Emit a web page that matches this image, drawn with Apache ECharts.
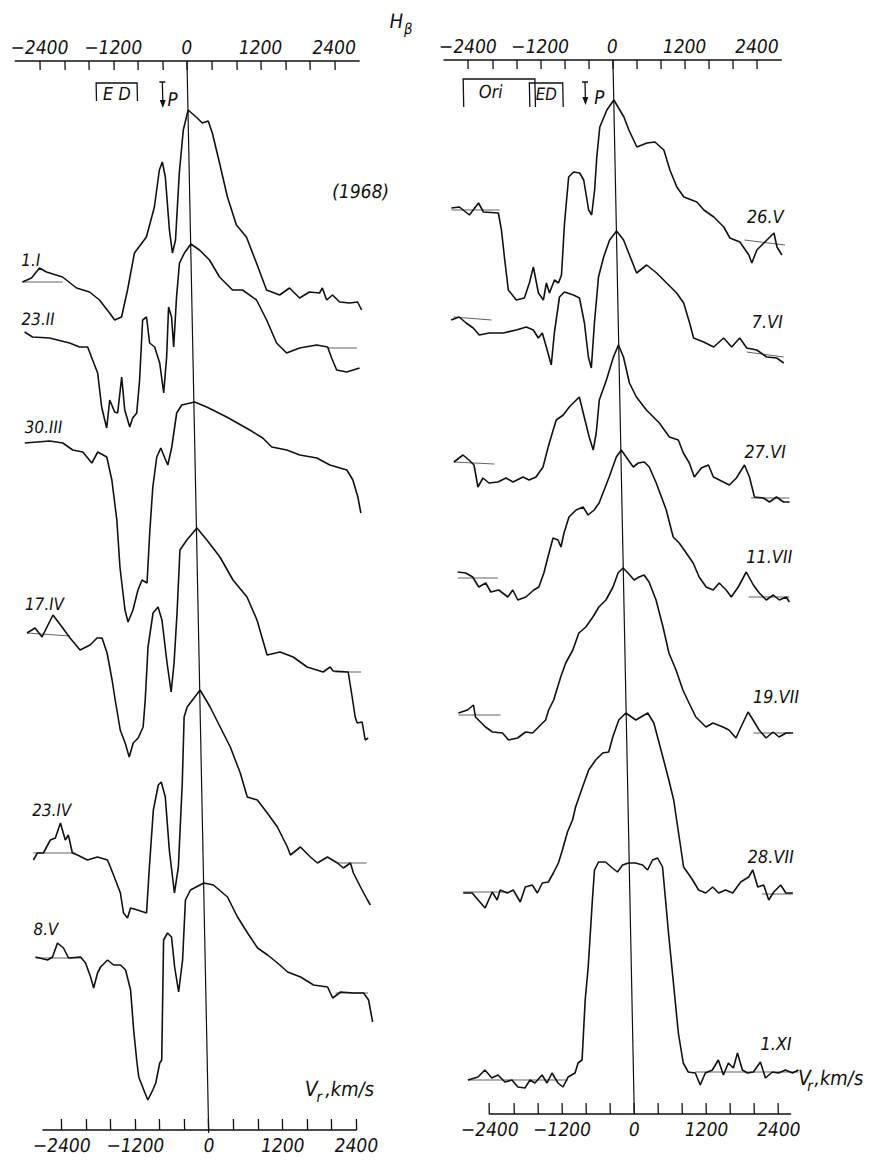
<!DOCTYPE html>
<html><head><meta charset="utf-8">
<script src="https://cdn.jsdelivr.net/npm/echarts@6/dist/echarts.min.js"></script>
<style>
html,body{margin:0;padding:0;background:#fff;}
#chart{width:872px;height:1162px;transform:skewX(1.16deg);transform-origin:50% 50%;}
</style></head><body><div id="chart"></div>
<script>
// ---- axis ticks (km/s) ----
const TICKS = [-2400,-2000,-1600,-1200,-800,-400,0,400,800,1200,1600,2000,2400];
const TICK_LABELS = [-2400,-1200,0,1200,2400];

// ---- profile dates ----
const LEFT_DATES  = ['1.I','23.II','30.III','17.IV','23.IV','8.V'];
const RIGHT_DATES = ['26.V','7.VI','27.VI','11.VII','19.VII','28.VII','1.XI'];
// continuum level of each profile in the stack (arbitrary units)
const LEFT_OFFSETS  = [8.51,7.85,6.90,5.00,2.78,1.75];
const RIGHT_OFFSETS = [9.03,7.93,6.51,5.35,3.98,2.21,0.35];

// ---- profiles: radial velocity (km/s) and flux above continuum (arb. units) ----
const V_1I = [-2755,-2608,-2474,-2361,-2101,-1877,-1666,-1507,-1347,-1267,-1153,-1047,-922,-722,-582,-489,-438,-394,-345,-303,-249,-165,-86,0,145,225,323,386,490,611,748,907,1062,1217,1429,1592,1753,1916,2079,2127,2193,2290,2404,2566,2696,2760];
const F_1I = [0,0.04,0.14,0.10,0.05,-0.06,-0.10,-0.18,-0.31,-0.38,-0.35,-0.08,0.29,0.45,0.75,1.12,1.20,1.05,0.52,0.29,0.42,1.09,1.52,1.72,1.64,1.59,1.61,1.49,1.20,0.85,0.57,0.45,0.19,-0.08,-0.13,-0.06,-0.16,-0.10,-0.11,-0.06,-0.18,-0.13,-0.20,-0.21,-0.20,-0.28];

const V_23II = [-2738,-2610,-2333,-2009,-1846,-1715,-1639,-1561,-1507,-1461,-1432,-1373,-1297,-1248,-1171,-1132,-1056,-1005,-938,-880,-811,-746,-705,-624,-547,-492,-432,-384,-339,-314,-251,-192,-108,0,138,298,456,663,826,1051,1209,1363,1523,1737,2015,2194,2255,2333,2496,2707];
const F_23II = [0.16,0.11,0.10,0.05,0.01,0.01,-0.12,-0.25,-0.59,-0.72,-0.80,-0.52,-0.64,-0.65,-0.29,-0.62,-0.79,-0.70,-0.65,-0.32,0.28,0.31,0.05,0.01,-0.15,-0.45,-0.09,0.41,0.31,0.01,0.51,0.85,0.95,1.04,0.98,0.88,0.71,0.58,0.58,0.48,0.28,0.05,-0.05,0,0.03,0.01,-0.10,-0.22,-0.24,-0.20];

const V_30III = [-2771,-2364,-2152,-1992,-1829,-1686,-1585,-1440,-1365,-1297,-1262,-1194,-1148,-1064,-976,-907,-826,-762,-700,-626,-557,-495,-448,-378,-287,-202,10,204,526,898,1106,1251,1494,1704,1981,2191,2466,2561,2636,2680];
const F_30III = [0,0.02,0,-0.07,-0.09,-0.20,-0.09,-0.14,-0.37,-0.77,-1.24,-1.67,-1.79,-1.67,-1.47,-1.37,-1.40,-0.87,-0.44,-0.14,-0.05,-0.15,-0.22,-0.04,0.30,0.38,0.41,0.36,0.26,0.13,0.05,-0.04,-0.07,-0.12,-0.15,-0.22,-0.27,-0.37,-0.54,-0.70];

const V_17IV = [-2797,-2665,-2554,-2470,-2369,-2225,-2098,-1939,-1774,-1658,-1577,-1500,-1427,-1383,-1311,-1235,-1173,-1104,-1021,-937,-894,-831,-738,-655,-595,-526,-469,-412,-347,-279,-163,5,163,370,575,798,953,1106,1318,1530,1754,2013,2129,2176,2421,2478,2520,2551,2632,2676,2725];
const F_17IV = [0,0.05,-0.04,0.06,0.18,0.06,-0.05,-0.17,-0.12,-0.05,-0.05,-0.20,-0.47,-0.67,-0.97,-1.10,-1.24,-1.10,-1.05,-0.94,-0.67,-0.14,0.20,0.26,0.13,-0.30,-0.59,-0.30,0.20,0.83,0.93,1.05,0.93,0.76,0.53,0.36,0.13,-0.22,-0.19,-0.24,-0.34,-0.39,-0.34,-0.38,-0.39,-0.64,-0.84,-0.90,-0.89,-1.07,-1.05];

const V_23IV = [-2768,-2701,-2603,-2486,-2403,-2316,-2242,-2191,-2131,-2049,-1888,-1725,-1562,-1517,-1438,-1362,-1318,-1254,-1202,-1090,-943,-881,-798,-709,-660,-599,-551,-482,-409,-318,-266,-213,3,161,318,476,630,736,899,1057,1217,1373,1420,1585,1745,1857,2022,2183,2279,2395,2440,2551,2660,2707];
const F_23IV = [-0.05,0.02,0.02,0.15,0.17,0.32,0.15,0.20,0.02,0,-0.05,-0.02,-0.05,-0.12,-0.25,-0.38,-0.58,-0.63,-0.53,-0.55,-0.58,-0.12,0.45,0.70,0.73,0.58,0.05,-0.38,-0.12,0.72,1.38,1.48,1.65,1.48,1.28,1.08,0.82,0.58,0.55,0.42,0.28,0.08,0,0.08,-0.02,-0.08,-0.02,-0.08,-0.13,-0.08,-0.18,-0.32,-0.45,-0.50];

const V_8V = [-2766,-2571,-2489,-2403,-2307,-2228,-2033,-1953,-1875,-1829,-1761,-1709,-1593,-1497,-1383,-1303,-1228,-1191,-1152,-1124,-1046,-984,-899,-849,-777,-744,-674,-608,-544,-503,-446,-371,-305,-220,0,156,381,538,696,854,1015,1174,1336,1546,1754,1982,2061,2193,2404,2567,2645,2704];
const F_8V = [0.01,-0.02,0.01,0.15,0.10,0,0.01,-0.05,-0.19,-0.30,-0.15,-0.09,-0.02,-0.07,-0.07,-0.12,-0.32,-0.72,-1.02,-1.19,-1.32,-1.42,-1.32,-1.25,-1.05,-1.02,0.18,0.25,0.21,-0.09,-0.34,-0.02,0.58,0.68,0.75,0.73,0.61,0.41,0.25,0.10,0.03,-0.05,-0.14,-0.19,-0.27,-0.29,-0.40,-0.34,-0.35,-0.35,-0.42,-0.64];

const V_26V = [-2729,-2594,-2431,-2276,-2196,-1949,-1904,-1864,-1810,-1681,-1546,-1458,-1386,-1311,-1231,-1175,-1128,-1040,-975,-922,-854,-770,-686,-586,-521,-449,-401,-343,-296,-236,-113,7,168,246,373,541,674,820,914,1023,1137,1351,1464,1627,1790,1887,2052,2196,2243,2331,2501,2621,2666,2746];
const F_26V = [0.02,0.03,-0.05,0.07,-0.02,-0.03,-0.20,-0.47,-0.80,-0.90,-0.88,-0.73,-0.57,-0.83,-0.90,-0.73,-0.83,-0.70,-0.73,-0.65,-0.13,0.33,0.38,0.37,0.30,0,-0.05,0.20,0.53,0.83,1.00,1.10,0.93,0.80,0.63,0.67,0.68,0.60,0.40,0.23,0.13,0.08,0,-0.07,-0.17,-0.28,-0.32,-0.45,-0.53,-0.40,-0.30,-0.23,-0.37,-0.45];

const V_7VI = [-2769,-2636,-2521,-2406,-2308,-2142,-1909,-1691,-1524,-1408,-1328,-1260,-1198,-1122,-1060,-963,-879,-730,-631,-557,-503,-458,-391,-308,-216,-111,8,121,201,326,496,659,822,985,1098,1190,1251,1416,1581,1750,1880,2017,2130,2295,2459,2624,2739];
const F_7VI = [0,0.03,-0.03,-0.08,-0.15,-0.13,-0.13,-0.10,-0.07,-0.10,-0.18,-0.13,-0.27,-0.45,-0.13,0.23,0.28,0.25,0.22,-0.03,-0.37,-0.48,-0.03,0.43,0.63,0.80,0.89,0.80,0.67,0.47,0.55,0.47,0.37,0.27,0.17,-0.03,-0.18,-0.22,-0.27,-0.18,-0.27,-0.18,-0.28,-0.30,-0.37,-0.38,-0.43];

const V_27VI = [-2771,-2619,-2521,-2439,-2381,-2295,-2196,-2047,-1912,-1797,-1629,-1529,-1413,-1293,-1201,-1112,-1058,-940,-837,-719,-667,-607,-516,-454,-398,-336,-211,-87,0,80,170,281,443,491,654,815,963,1042,1138,1216,1336,1454,1533,1632,1795,1915,2053,2132,2208,2358,2456,2574,2689,2790];
const F_27VI = [0,0.07,0.02,-0.03,-0.25,-0.16,-0.21,-0.20,-0.16,-0.20,-0.15,-0.18,-0.15,-0.05,0.15,0.32,0.42,0.47,0.55,0.62,0.65,0.49,0.25,0.12,0.29,0.62,0.82,1.05,1.17,1.05,0.79,0.65,0.52,0.49,0.39,0.25,0.22,0.09,-0.01,-0.15,-0.06,-0.03,-0.15,-0.18,-0.23,-0.16,-0.03,-0.15,-0.35,-0.36,-0.40,-0.35,-0.40,-0.40];

const V_11VII = [-2746,-2612,-2498,-2401,-2283,-2203,-2070,-1922,-1837,-1757,-1622,-1488,-1403,-1315,-1223,-1151,-1070,-1022,-967,-879,-759,-641,-561,-459,-374,-286,-198,-73,12,125,205,290,391,471,582,739,845,943,1057,1168,1263,1376,1491,1594,1707,1789,1909,2047,2160,2256,2370,2488,2586,2704,2752];
const F_11VII = [0.06,0.05,0.01,-0.09,-0.05,-0.14,-0.12,-0.19,-0.12,-0.22,-0.19,-0.12,-0.09,0.05,0.25,0.40,0.38,0.31,0.45,0.61,0.68,0.71,0.63,0.68,0.75,0.88,1.01,1.21,1.28,1.18,1.11,1.15,1.16,1.11,0.95,0.68,0.41,0.35,0.25,0.15,0.01,-0.09,-0.12,-0.05,-0.12,-0.19,-0.09,0.06,-0.07,-0.15,-0.22,-0.17,-0.22,-0.19,-0.24];

const V_19VII = [-2781,-2629,-2528,-2499,-2336,-2221,-2055,-1959,-1807,-1672,-1556,-1454,-1335,-1281,-1195,-1070,-982,-860,-754,-636,-516,-413,-293,-171,-83,2,83,181,265,349,429,539,646,735,847,955,1052,1161,1325,1443,1607,1707,1820,1907,2030,2110,2207,2320,2438,2536,2654,2771];
const F_19VII = [0.02,0.05,0.10,-0.02,-0.12,-0.17,-0.18,-0.25,-0.23,-0.17,-0.18,-0.12,-0.05,0.05,0.15,0.38,0.52,0.65,0.82,0.88,0.98,1.08,1.15,1.28,1.42,1.47,1.42,1.35,1.38,1.40,1.33,1.15,0.88,0.62,0.45,0.25,0.12,-0.02,-0.12,-0.08,-0.12,-0.15,-0.23,-0.12,0.03,-0.05,-0.15,-0.23,-0.17,-0.22,-0.18,-0.18];

const V_28VII = [-2762,-2612,-2516,-2403,-2280,-2200,-2147,-2030,-1930,-1817,-1729,-1612,-1531,-1444,-1345,-1258,-1171,-1100,-1010,-922,-867,-744,-637,-518,-398,-298,-226,-120,0,163,364,461,599,691,765,822,865,907,1053,1148,1265,1383,1481,1597,1714,1850,1985,2055,2132,2231,2310,2396,2514,2596,2712];
const F_28VII = [-0.01,-0.01,-0.08,-0.16,0,-0.08,0.02,-0.01,0.02,-0.10,0.05,0.07,-0.01,0.09,0.10,0.19,0.29,0.42,0.60,0.72,0.85,1.05,1.22,1.32,1.39,1.40,1.55,1.72,1.79,1.72,1.79,1.69,1.35,1.12,0.92,0.65,0.45,0.25,0.12,0.02,-0.01,0.05,-0.01,0.02,-0.01,0.10,0.15,0.22,0.05,0.07,-0.08,0,0.07,-0.01,-0.01];

const V_1XI = [-2747,-2579,-2461,-2348,-2246,-2133,-2015,-1919,-1802,-1716,-1634,-1514,-1434,-1348,-1251,-1170,-1082,-965,-912,-844,-772,-711,-619,-574,-504,-388,-275,-193,-106,-7,110,226,308,394,478,557,596,634,699,764,835,915,1032,1110,1198,1316,1419,1498,1584,1666,1739,1815,1897,1997,2117,2195,2313,2413,2531,2646,2746];
const F_1XI = [-0.02,0.01,0.08,0,0.03,-0.04,-0.02,-0.09,-0.10,-0.02,-0.05,0.03,-0.05,0.05,-0.05,-0.09,0.01,0.05,0.15,0.18,0.78,1.11,1.78,2.08,2.16,2.16,2.10,2.06,2.13,2.15,2.15,2.13,2.08,2.18,2.20,2.11,1.78,1.45,0.95,0.45,0.15,0.06,0.05,-0.07,0.05,0.08,0.18,0.03,0.15,0.10,0.25,0.08,0.05,0.06,0.16,0,0.06,0.05,0.08,0.05,0.08];

// continuum reference segments [v1, v2, f1, f2]
const LEFT_CONT_BLUE = [[-2760,-2100,0,0],null,null,[-2797,-2098,0,-0.03],[-2770,-2080,0.02,0.02],[-2766,-2033,0,0]];
const LEFT_CONT_RED  = [null,[2194,2670,0,0],null,[2200,2632,-0.39,-0.39],[2183,2660,-0.08,-0.08],[2110,2640,-0.35,-0.35]];
const RIGHT_CONT_BLUE = [[-2729,-1930,0,0],[-2730,-2100,0.03,0],[-2771,-2100,0,-0.02],[-2746,-2080,0,0],[-2781,-2080,0,0],[-2762,-2030,0,0],[-2747,-1082,-0.02,-0.02]];
const RIGHT_CONT_RED  = [[2130,2800,-0.30,-0.35],[2130,2739,-0.32,-0.37],[2150,2790,-0.36,-0.36],[2080,2752,-0.19,-0.19],[2110,2720,-0.18,-0.18],[2200,2712,-0.02,-0.02],[1030,2746,0.06,0.06]];

// velocity ranges marked above the profiles
const ED_LEFT = [-1490,-823];
const P_LEFT = -411;
const ORI_RIGHT = [-2489,-1298];
const ED_RIGHT = [-1391,-837];
const P_RIGHT = -466;

const LEFT_PROFILES  = [[V_1I,F_1I],[V_23II,F_23II],[V_30III,F_30III],[V_17IV,F_17IV],[V_23IV,F_23IV],[V_8V,F_8V]];
const RIGHT_PROFILES = [[V_26V,F_26V],[V_7VI,F_7VI],[V_27VI,F_27VI],[V_11VII,F_11VII],[V_19VII,F_19VII],[V_28VII,F_28VII],[V_1XI,F_1XI]];

// ---- layout / style ----
const FONT = '"DejaVu Sans Condensed","Liberation Sans Narrow",sans-serif';
const INK = '#111111';
const LEFT_LABEL_AT  = [[-2769,8.65],[-2786,8.06],[-2769,6.98],[-2823,5.21],[-2773,3.15],[-2792,1.96]];
const RIGHT_LABEL_AT = [[2175,8.88],[2220,7.83],[2055,6.53],[2050,5.48],[2115,4.08],[1974,2.48],[2122,0.61]];

function fmt(v){ return v < 0 ? '\u2212' + Math.abs(v) : String(v); }

function xAxisCfg(grid, pos, min, max, tickLen){
  return {type:'value', gridIndex:grid, position:pos, min:min, max:max,
    axisLine:{show:true, onZero:false, lineStyle:{color:INK, width:1.6}},
    axisTick:{show:true, inside:true, length:tickLen, customValues:TICKS, lineStyle:{color:INK, width:1.3}},
    axisLabel:{show:true, customValues:TICK_LABELS, formatter:fmt, color:INK, fontFamily:FONT, fontStyle:'italic', fontSize:19, margin:5},
    splitLine:{show:false}};
}
function yAxisCfg(grid, max){
  return {type:'value', gridIndex:grid, min:0, max:max, show:false, splitLine:{show:false}};
}

const series = [];
function addPanel(ax, profiles, offsets, contB, contR){
  profiles.forEach(function(p, i){
    const V = p[0], F = p[1];
    const s = {type:'line', xAxisIndex:ax, yAxisIndex:ax, data:V.map(function(v,k){return [v, offsets[i] + F[k]];}),
      showSymbol:false, symbol:'none', lineStyle:{color:INK, width:1.6}, silent:true, animation:false, z:3};
    if (i === 0) s.markLine = {silent:true, symbol:'none', label:{show:false}, animation:false,
      lineStyle:{color:INK, width:1.2, type:'solid'}, data:[{xAxis:0}]};
    series.push(s);
    [contB[i], contR[i]].forEach(function(c){
      if (!c) return;
      series.push({type:'line', xAxisIndex:ax, yAxisIndex:ax, data:[[c[0], offsets[i]+c[2]],[c[1], offsets[i]+c[3]]],
        showSymbol:false, symbol:'none', lineStyle:{color:'#3a3a3a', width:0.8}, silent:true, animation:false, z:2});
    });
  });
}
addPanel(0, LEFT_PROFILES, LEFT_OFFSETS, LEFT_CONT_BLUE, LEFT_CONT_RED);
addPanel(2, RIGHT_PROFILES, RIGHT_OFFSETS, RIGHT_CONT_BLUE, RIGHT_CONT_RED);

const chart = echarts.init(document.getElementById('chart'), null, {renderer:'svg'});
chart.setOption({
  backgroundColor:'#ffffff',
  animation:false,
  grid:[
    {left:25.8, top:61, width:343.8, height:1072},
    {left:31.9, top:1000, width:313.1, height:130},
    {left:454.6, top:60, width:337.2, height:1053},
    {left:478.7, top:1000, width:301, height:114}
  ],
  xAxis:[
    xAxisCfg(0,'top',-2800,2800,9),
    xAxisCfg(1,'bottom',-2700,2400,11),
    xAxisCfg(2,'top',-2800,2800,9),
    xAxisCfg(3,'bottom',-2400,2600,11)
  ],
  yAxis:[yAxisCfg(0,10.72), yAxisCfg(1,1), yAxisCfg(2,10.53), yAxisCfg(3,1)],
  series:series
});

// ---- annotations ----
const g = [];
function P(ax, v, y){ return chart.convertToPixel({xAxisIndex:ax, yAxisIndex:ax}, [v, y]); }
function txtAt(x, y, text, size, align){
  g.push({type:'text', x:x, y:y, silent:true, z:10,
    style:{text:text, fill:INK, font:'italic ' + size + 'px ' + FONT, align:align || 'left', verticalAlign:'bottom'}});
}
function txt(ax, v, y, text, size, align){ const p = P(ax, v, y); txtAt(p[0], p[1], text, size, align); }
function bracket(ax, v1, v2, yTop, yBot){
  const a = P(ax,v1,yBot), b = P(ax,v1,yTop), c = P(ax,v2,yTop), d = P(ax,v2,yBot);
  g.push({type:'polyline', silent:true, shape:{points:[a,b,c,d]}, style:{stroke:INK, fill:null, lineWidth:1.3}});
}
function arrow(ax, v, yTop, yBot){
  const t = P(ax,v,yTop), b = P(ax,v,yBot);
  g.push({type:'line', silent:true, shape:{x1:t[0]-3, y1:t[1], x2:t[0]+3, y2:t[1]}, style:{stroke:INK, lineWidth:1.3}});
  g.push({type:'line', silent:true, shape:{x1:t[0], y1:t[1], x2:b[0], y2:b[1]-6}, style:{stroke:INK, lineWidth:1.3}});
  g.push({type:'polygon', silent:true, shape:{points:[[b[0]-3,b[1]-8],[b[0]+3,b[1]-8],[b[0],b[1]]]}, style:{fill:INK}});
}

LEFT_DATES.forEach(function(d,i){ txt(0, LEFT_LABEL_AT[i][0], LEFT_LABEL_AT[i][1], d, 17, 'left'); });
RIGHT_DATES.forEach(function(d,i){ txt(2, RIGHT_LABEL_AT[i][0], RIGHT_LABEL_AT[i][1], d, 18, 'left'); });
txt(0, 2320, 9.33, '(1968)', 19, 'left');

bracket(0, ED_LEFT[0], ED_LEFT[1], 10.50, 10.32);
txt(0, (ED_LEFT[0]+ED_LEFT[1])/2, 10.31, 'E D', 18, 'center');
arrow(0, P_LEFT, 10.51, 10.25);
txt(0, -334, 10.25, 'P', 19, 'left');

bracket(2, ORI_RIGHT[0], ORI_RIGHT[1], 10.34, 10.06);
txt(2, -2035, 10.13, 'Ori', 18, 'center');
bracket(2, ED_RIGHT[0], ED_RIGHT[1], 10.30, 10.06);
txt(2, (ED_RIGHT[0]+ED_RIGHT[1])/2, 10.11, 'ED', 17, 'center');
arrow(2, P_RIGHT, 10.31, 10.08);
txt(2, -321, 10.07, 'P', 19, 'left');

// line name and axis titles
txtAt(401, 31, 'H', 20, 'left');
txtAt(415, 36, '\u03B2', 15, 'left');
txtAt(294.7, 1099, 'V', 21, 'left');
txtAt(306, 1104, 'r', 15, 'left');
txtAt(314.7, 1099, ',km/s', 20, 'left');
txtAt(788, 1088, 'V', 21, 'left');
txtAt(797, 1093, 'r', 15, 'left');
txtAt(804, 1088, ',km/s', 20, 'left');

chart.setOption({graphic:g});
</script></body></html>
